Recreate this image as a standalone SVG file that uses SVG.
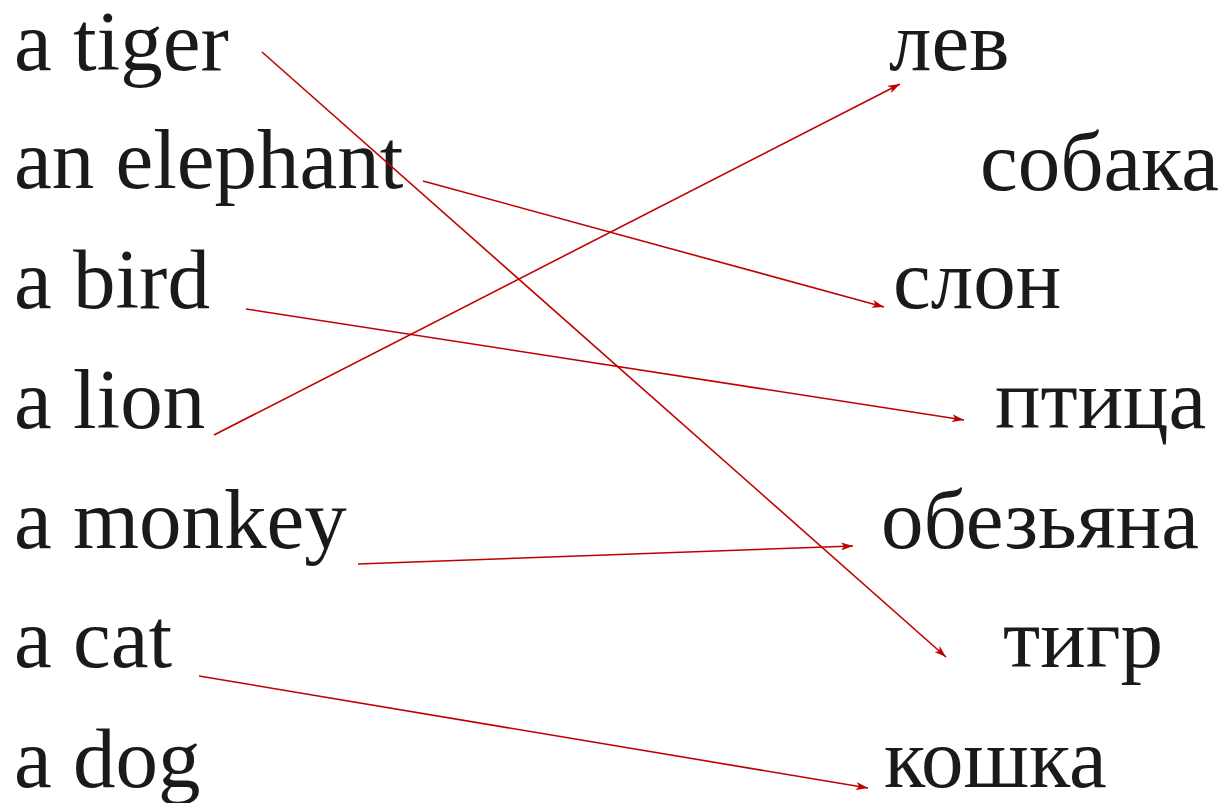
<svg xmlns="http://www.w3.org/2000/svg" width="1224" height="803" viewBox="0 0 1224 803">
<style>
.t{font-family:'Liberation Serif','Times New Roman',Times,serif;font-size:85px;fill:#1a1a1a}
.c{stroke:#c00000;stroke-width:1.6;fill:none;marker-end:url(#ah)}
</style>
<defs>
<marker id="ah" viewBox="0 0 12 8" refX="12" refY="4" markerWidth="12" markerHeight="8" markerUnits="userSpaceOnUse" orient="auto">
<path d="M0,0 L12,4 L0,8 L3,4 Z" fill="#c00000"/>
</marker>
</defs>
<rect width="1224" height="803" fill="#fff"/>
<g id="left">
<g id="tiger"><text class="t" font-family="Liberation Serif" x="14" y="70">a tiger</text></g>
<g id="elephant"><text class="t" font-family="Liberation Serif" x="14" y="188">an elephant</text></g>
<g id="bird"><text class="t" font-family="Liberation Serif" x="14" y="308">a bird</text></g>
<g id="lion"><text class="t" font-family="Liberation Serif" x="14" y="428">a lion</text></g>
<g id="monkey"><text class="t" font-family="Liberation Serif" x="14" y="548">a monkey</text></g>
<g id="cat"><text class="t" font-family="Liberation Serif" x="14" y="667">a cat</text></g>
<g id="dog"><text class="t" font-family="Liberation Serif" x="14" y="787">a dog</text></g>
</g>
<g id="right">
<g id="lev"><text class="t" font-family="Liberation Serif" x="889" y="70">лев</text></g>
<g id="sobaka"><text class="t" font-family="Liberation Serif" x="980" y="190">собака</text></g>
<g id="slon"><text class="t" font-family="Liberation Serif" x="893" y="308">слон</text></g>
<g id="ptica"><text class="t" font-family="Liberation Serif" x="995" y="428">птица</text></g>
<g id="obezyana"><text class="t" font-family="Liberation Serif" x="881" y="548">обезьяна</text></g>
<g id="tigr"><text class="t" font-family="Liberation Serif" x="1003" y="667">тигр</text></g>
<g id="koshka"><text class="t" font-family="Liberation Serif" x="884" y="787">кошка</text></g>
</g>
<g id="connectors">
<line class="c" x1="262" y1="52" x2="946" y2="657"/>
<line class="c" x1="423" y1="181" x2="884" y2="307"/>
<line class="c" x1="246" y1="309" x2="964" y2="420"/>
<line class="c" x1="214" y1="435" x2="900" y2="84"/>
<line class="c" x1="358" y1="564" x2="853" y2="546"/>
<line class="c" x1="199" y1="676" x2="868" y2="788"/>
</g>
</svg>
